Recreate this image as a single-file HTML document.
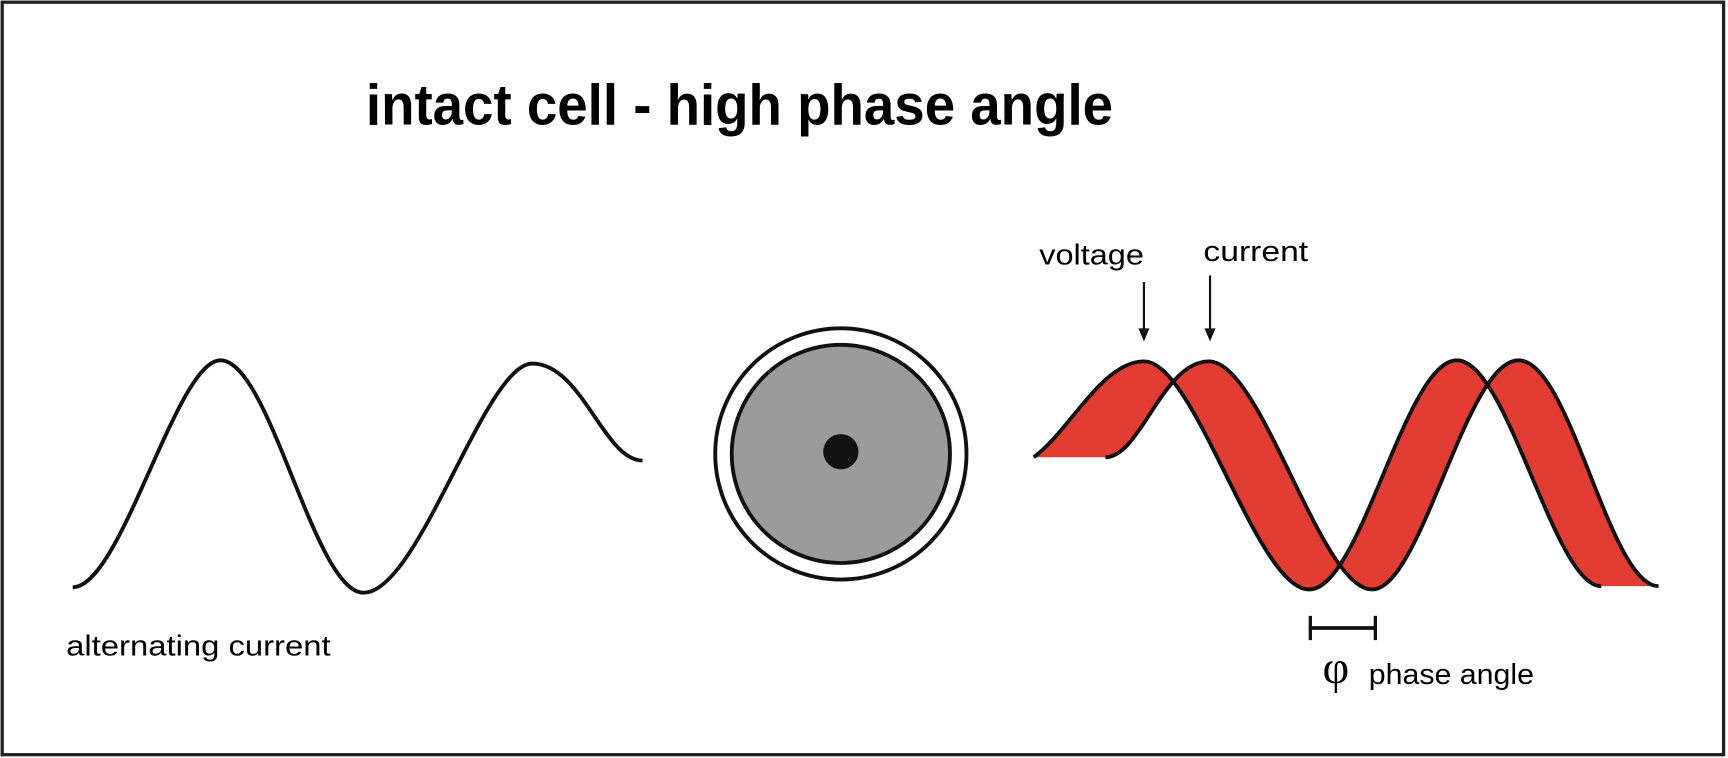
<!DOCTYPE html>
<html><head><meta charset="utf-8"><style>
html,body{margin:0;padding:0;background:#fff;overflow:hidden}
svg{display:block}
</style></head><body>
<svg width="1728" height="758" viewBox="0 0 1568 688" preserveAspectRatio="none" xmlns="http://www.w3.org/2000/svg">
<rect x="0" y="0" width="1568" height="688" fill="#fff"/>
<rect x="2" y="2" width="1562" height="683" fill="none" stroke="#222" stroke-width="3"/>
<text x="332" y="113" font-family="Liberation Sans, sans-serif" font-weight="bold" font-size="52" textLength="678" lengthAdjust="spacingAndGlyphs">intact cell - high phase angle</text>

<path d="M66,533 C110,533 160,327 200,327 C245,327 285,538 330,538 C380,538 440,330 483,330 C528,330 548,418 583,418" fill="none" stroke="#111" stroke-width="3.5"/>
<text x="60" y="595" font-family="Liberation Sans, sans-serif" font-size="26" textLength="240" lengthAdjust="spacingAndGlyphs">alternating current</text>

<circle cx="763" cy="412" r="114" fill="#fff" stroke="#111" stroke-width="3.5"/>
<circle cx="763" cy="412" r="99" fill="#9b9b9b" stroke="#111" stroke-width="3.5"/>
<circle cx="763" cy="410" r="16" fill="#111"/>

<path d="M938,415 C970,392 1000,328 1038,328 C1085,328 1140,535 1188,535 C1235,535 1275,327 1322,327 C1368,327 1410,532 1453,532 L1505,532 C1460,532 1425,327 1378,327 C1330,327 1290,535 1245,535 C1198,535 1145,328 1097,328 C1055,328 1035,415 1003,415 Z" fill="#e23c33" stroke="none"/>
<path d="M938,415 C970,392 1000,328 1038,328 C1085,328 1140,535 1188,535 C1235,535 1275,327 1322,327 C1368,327 1410,532 1453,532" fill="none" stroke="#111" stroke-width="3.5"/>
<path d="M1003,415 C1035,415 1055,328 1097,328 C1145,328 1198,535 1245,535 C1290,535 1330,327 1378,327 C1425,327 1460,532 1505,532" fill="none" stroke="#111" stroke-width="3.5"/>

<text x="943" y="240" font-family="Liberation Sans, sans-serif" font-size="26" textLength="95" lengthAdjust="spacingAndGlyphs">voltage</text>
<text x="1092" y="237" font-family="Liberation Sans, sans-serif" font-size="26" textLength="95" lengthAdjust="spacingAndGlyphs">current</text>
<line x1="1038" y1="256" x2="1038" y2="300" stroke="#111" stroke-width="2"/>
<polygon points="1033,298 1043,298 1038,310" fill="#111"/>
<line x1="1098" y1="250" x2="1098" y2="300" stroke="#111" stroke-width="2"/>
<polygon points="1093,298 1103,298 1098,310" fill="#111"/>

<line x1="1188" y1="570" x2="1248" y2="570" stroke="#111" stroke-width="3.5"/>
<line x1="1189" y1="559" x2="1189" y2="581" stroke="#111" stroke-width="3"/>
<line x1="1248" y1="559" x2="1248" y2="581" stroke="#111" stroke-width="3"/>
<text x="1200" y="620" font-family="Liberation Serif, serif" font-size="42">φ</text>
<text x="1242" y="621" font-family="Liberation Sans, sans-serif" font-size="26" textLength="150" lengthAdjust="spacingAndGlyphs">phase angle</text>
</svg>
</body></html>
